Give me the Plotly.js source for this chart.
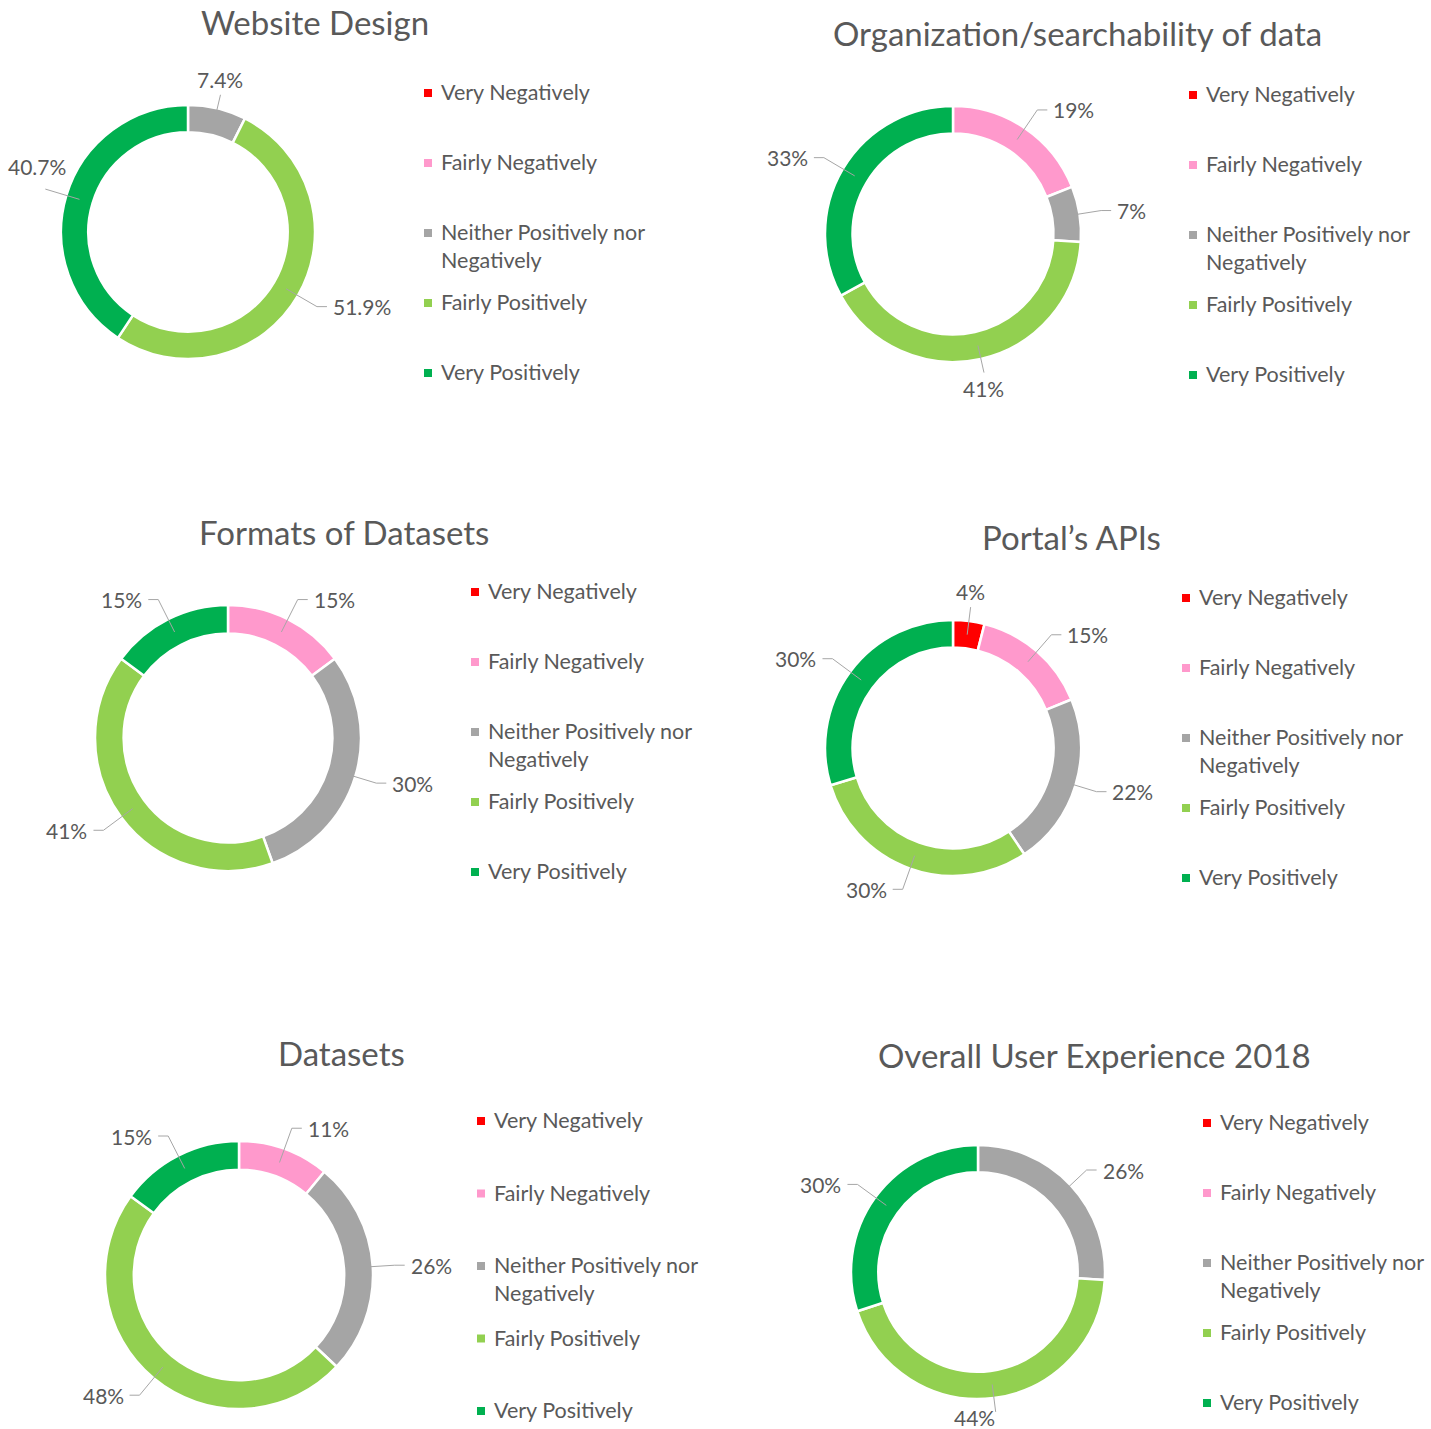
<!DOCTYPE html>
<html>
<head>
<meta charset="utf-8">
<script src="https://cdn.plot.ly/plotly-3.0.1.min.js"></script>
<style>html,body{margin:0;padding:0;background:#fff;}#chart{width:1431px;height:1429px;}</style>
</head>
<body>
<div id="chart"></div>
<script>
// ---------- DATA ----------
const categories = ['Very Negatively', 'Fairly Negatively', 'Neither Positively nor<br>Negatively', 'Fairly Positively', 'Very Positively'];
const sliceColors = ['#FF0000', '#FF99CC', '#A5A5A5', '#92D050', '#00B050'];
const chartTitles = ['Website Design', 'Organization/searchability of data', 'Formats of Datasets', 'Portal’s APIs', 'Datasets', 'Overall User Experience 2018'];
const websiteDesign = [0, 0, 7.4, 51.9, 40.7];
const organizationSearchability = [0, 19, 7, 41, 33];
const formatsOfDatasets = [0, 15, 30, 41, 15];
const portalApis = [4, 15, 22, 30, 30];
const datasets = [0, 11, 26, 48, 15];
const overallExperience2018 = [0, 0, 26, 44, 30];
const seriesValues = [websiteDesign, organizationSearchability, formatsOfDatasets, portalApis, datasets, overallExperience2018];

// ---------- LAYOUT (pixel placement of each panel) ----------
const W = 1431, H = 1429;
const panels = [
  {cx: 188, cy: 232, r: 127, tx: 315, ty: 22, lx: 424, ly: 92, gap: 70},
  {cx: 953, cy: 234, r: 128, tx: 1077, ty: 33, lx: 1189, ly: 94, gap: 70},
  {cx: 228, cy: 738, r: 133, tx: 344, ty: 532, lx: 471, ly: 591, gap: 70},
  {cx: 953, cy: 748, r: 128, tx: 1071, ty: 537, lx: 1182, ly: 597, gap: 70},
  {cx: 239, cy: 1275, r: 134, tx: 341, ty: 1053, lx: 477, ly: 1120, gap: 72.5},
  {cx: 978, cy: 1272, r: 127, tx: 1094, ty: 1055, lx: 1203, ly: 1122, gap: 70}
];
const HOLE = 0.785;
const FONT = 'Lato, "Open Sans", sans-serif';
const TXT = '#595959';
const LINE = '#A6A6A6';
const LABEL_SIZE = 21;

const px = x => x / W;
const py = y => 1 - y / H;

const traces = [], annotations = [], shapes = [];

seriesValues.forEach((vals, k) => {
  const p = panels[k];
  traces.push({
    type: 'pie',
    values: vals,
    labels: categories,
    sort: false,
    direction: 'clockwise',
    rotation: 0,
    hole: HOLE,
    textinfo: 'none',
    hoverinfo: 'skip',
    showlegend: false,
    marker: {colors: sliceColors, line: {color: '#ffffff', width: 2.5}},
    domain: {x: [px(p.cx - p.r), px(p.cx + p.r)], y: [py(p.cy + p.r), py(p.cy - p.r)]}
  });

  // title
  annotations.push({
    text: chartTitles[k], xref: 'paper', yref: 'paper', x: px(p.tx), y: py(p.ty),
    xanchor: 'center', yanchor: 'middle', showarrow: false,
    font: {family: FONT, size: 33, color: TXT}
  });

  // data labels with leader lines
  const total = vals.reduce((a, b) => a + b, 0);
  let cum = 0;
  const thick = p.r * (1 - HOLE);
  vals.forEach((v, i) => {
    const mid = (cum + v / 2) / total;
    cum += v;
    if (v <= 0) return;
    const txt = v + '%';
    const tw = txt.length * 0.56 * LABEL_SIZE;
    const th = 2 * Math.PI * mid;
    const dx = Math.sin(th), dy = -Math.cos(th);
    const r0 = p.r - thick / 2;
    const vertical = Math.abs(dx) < 0.25;
    const r1 = p.r + (vertical ? 14 : 22);
    const x0 = p.cx + dx * r0, y0 = p.cy + dy * r0;
    const x1 = p.cx + dx * r1, y1 = p.cy + dy * r1;
    let path, lx, ly, xa, ya;
    if (vertical) {
      path = `M${px(x0)},${py(y0)} L${px(x1)},${py(y1)}`;
      lx = x1; ly = y1 + (dy < 0 ? -1 : 1);
      xa = 'center'; ya = dy < 0 ? 'bottom' : 'top';
      if (ya === 'top' && ly > H - 26) { ly = H - 26; lx = x1 - tw / 2 - 4; xa = 'center'; }
    } else {
      const s = dx > 0 ? 1 : -1;
      const x2 = x1 + s * 10;
      lx = x2 + s * 4; ly = y1;
      xa = s > 0 ? 'left' : 'right'; ya = 'middle';
      if (s < 0 && lx - tw < 4) {
        // not enough room on the left: put the label above the leader line
        path = `M${px(x0)},${py(y0)} L${px(x1)},${py(y1)}`;
        lx = Math.max(4, x1 - tw / 2 - 10); ly = y1 - 8;
        xa = 'left'; ya = 'bottom';
      } else {
        path = `M${px(x0)},${py(y0)} L${px(x1)},${py(y1)} L${px(x2)},${py(y1)}`;
      }
    }
    shapes.push({type: 'path', xref: 'paper', yref: 'paper', path: path, line: {color: LINE, width: 1}});
    annotations.push({
      text: txt, xref: 'paper', yref: 'paper', x: px(lx), y: py(ly),
      xanchor: xa, yanchor: ya, showarrow: false,
      font: {family: FONT, size: LABEL_SIZE, color: TXT}
    });
  });

  // legend
  categories.forEach((c, i) => {
    const iy = p.ly + i * p.gap;
    shapes.push({
      type: 'rect', xref: 'paper', yref: 'paper',
      x0: px(p.lx), x1: px(p.lx + 8), y0: py(iy + 5), y1: py(iy - 3),
      fillcolor: sliceColors[i], line: {width: 0}
    });
    c.split('<br>').forEach((line, j) => {
      annotations.push({
        text: line, xref: 'paper', yref: 'paper', x: px(p.lx + 15), y: py(iy + j * 28),
        xanchor: 'left', yanchor: 'middle', showarrow: false,
        font: {family: FONT, size: 21.5, color: TXT}
      });
    });
  });
});

const layout = {
  width: W, height: H,
  margin: {l: 0, r: 0, t: 0, b: 0},
  paper_bgcolor: '#ffffff', plot_bgcolor: '#ffffff',
  showlegend: false,
  annotations: annotations,
  shapes: shapes
};
Plotly.newPlot('chart', traces, layout, {displayModeBar: false, staticPlot: true});
</script>
</body>
</html>
